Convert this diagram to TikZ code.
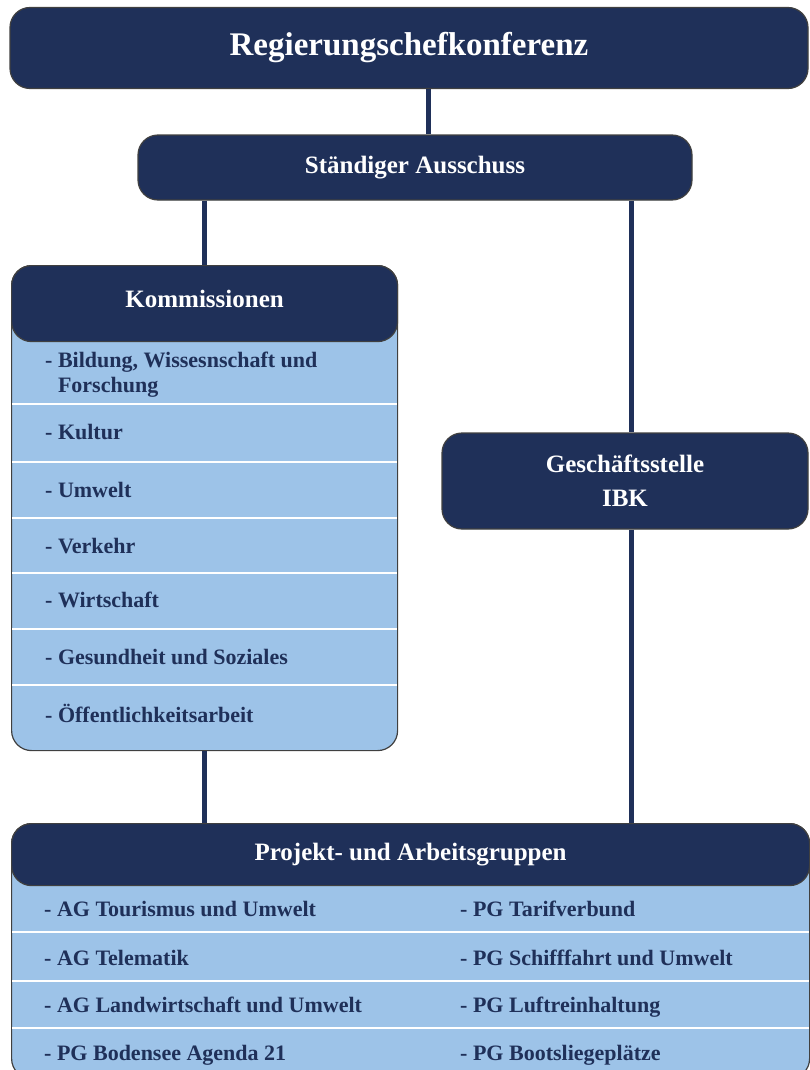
\documentclass[tikz,border=0pt]{standalone}
\usepackage{fontspec}
\setmainfont{Liberation Serif}
\usepackage{xcolor}
\usepackage{tikz}
\usetikzlibrary{positioning}

\definecolor{ibknavy}{RGB}{31,48,89}
\definecolor{ibkblue}{RGB}{157,195,232}

\begin{document}
\begin{tikzpicture}[
    x=1pt, y=-1pt,
    box_dark/.style={draw=black!75, line width=1.2pt, fill=ibknavy, text=white,
      rounded corners=20pt, align=center, font=\bfseries\fontsize{25}{34}\selectfont},
    box_light/.style={draw=black!75, line width=1.2pt, fill=ibkblue, rounded corners=20pt},
    lbl_item/.style={anchor=base west, inner sep=0pt, align=left, text=ibknavy,
      font=\bfseries\fontsize{22}{25}\selectfont},
    sep_line/.style={white, line width=2pt},
    link/.style={ibknavy, line width=5pt}
  ]
  \useasboundingbox (0,0) rectangle (810,1070);
  \clip (0,0) rectangle (810,1070);

  % Leitung
  \node[box_dark, minimum width=798pt, minimum height=81pt,
    font=\bfseries\fontsize{33}{36}\selectfont] (rk) at (409,48) {Regierungschefkonferenz};
  \node[box_dark, minimum width=554pt, minimum height=65pt] (sa) at (415,167.5) {Ständiger Ausschuss};

  % Kommissionen
  \node[box_light, minimum width=386pt, minimum height=485pt, anchor=north west] (komm) at (11,265) {};
  \node[box_dark, minimum width=386pt, minimum height=76pt, text depth=10pt,
    anchor=north west] (kommH) at (11,265) {Kommissionen};
  \foreach \yy in {404,462,518,573,629,685}
    \draw[sep_line] ([xshift=1pt]komm.west |- 0,\yy) -- ([xshift=-1pt]komm.east |- 0,\yy);
  \node[lbl_item, anchor=west] (k1) at (45,374.5) {- Bildung, Wissesnschaft und\\\hphantom{-\ }Forschung};
  \foreach \txt/\yy [count=\i from 2] in {Kultur/439, Umwelt/497, Verkehr/553,
      Wirtschaft/607, Gesundheit und Soziales/664, Öffentlichkeitsarbeit/722}
    \node[lbl_item] (k\i) at (45,\yy) {- \txt};

  % Geschaeftsstelle
  \node[box_dark, minimum width=366pt, minimum height=96pt] (gs) at (625,481) {Geschäftsstelle\\IBK};

  % Projekt- und Arbeitsgruppen
  \node[box_light, minimum width=798pt, minimum height=255pt, anchor=north west] (pg) at (11,823) {};
  \node[box_dark, minimum width=798pt, minimum height=62pt, anchor=north west] (pgH) at (11,823) {Projekt- und Arbeitsgruppen};
  \foreach \yy in {932,981,1028}
    \draw[sep_line] ([xshift=1pt]pg.west |- 0,\yy) -- ([xshift=-1pt]pg.east |- 0,\yy);
  \foreach \txt/\yy [count=\i] in {AG Tourismus und Umwelt/916, AG Telematik/965,
      AG Landwirtschaft und Umwelt/1012, PG Bodensee Agenda 21/1060}
    \node[lbl_item] (pl\i) at (44,\yy) {- \txt};
  \foreach \txt/\yy [count=\i] in {PG Tarifverbund/916, PG Schifffahrt und Umwelt/965,
      PG Luftreinhaltung/1012, PG Bootsliegeplätze/1060}
    \node[lbl_item] (pr\i) at (460,\yy) {- \txt};

  % Verbindungen
  \draw[link] ([xshift=19pt]rk.south) -- ([xshift=13pt]sa.north);
  \draw[link] (sa.south -| kommH.north) -- (kommH.north);
  \draw[link] (komm.south) -- (komm.south |- pgH.north);
  \draw[link] ([xshift=6pt]gs.north |- sa.south) -- ([xshift=6pt]gs.north);
  \draw[link] ([xshift=6pt]gs.south) -- ([xshift=6pt]gs.south |- pgH.north);
\end{tikzpicture}
\end{document}
